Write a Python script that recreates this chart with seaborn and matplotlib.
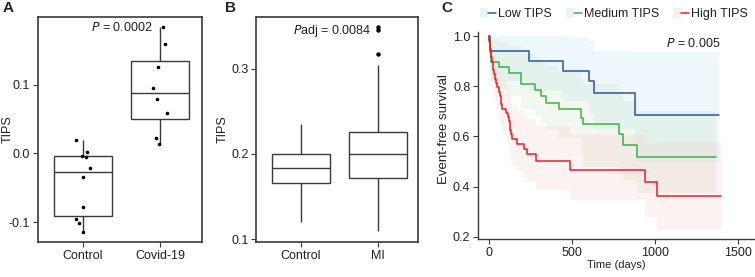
import numpy as np
import pandas as pd
import matplotlib
matplotlib.use("Agg")
import matplotlib.pyplot as plt
import seaborn as sns
from matplotlib.lines import Line2D
from matplotlib.patches import Patch
from matplotlib.legend_handler import HandlerTuple

# ── Data ───────────────────────────────────────────────────────
# Panel A: TIPS per sample
a_groups = ["Control", "Covid-19"]
a_control = [0.020, 0.0024, -0.004, -0.005, -0.021, -0.034, -0.078, -0.095, -0.101, -0.114]
a_covid = [0.185, 0.160, 0.126, 0.096, 0.079, 0.059, 0.022, 0.014]

# Panel B: five-number summaries (whisker low, Q1, median, Q3, whisker high) + outliers
b_groups = ["Control", "MI"]
b_ctrl_stats = [0.1196, 0.166, 0.1835, 0.200, 0.2357]
b_mi_stats = [0.109, 0.172, 0.200, 0.2255, 0.305]
b_mi_outliers = [0.317, 0.346, 0.349]

# Panel C: Kaplan-Meier steps (time, survival, CI low, CI high)
low_t = [0, 5, 240, 446, 600, 631, 880, 1385]
low_s = [1.0, 0.939, 0.901, 0.861, 0.820, 0.772, 0.687, 0.687]
low_lo = [1.0, 0.82, 0.78, 0.74, 0.69, 0.63, 0.50, 0.50]
low_hi = [1.0, 1.0, 1.0, 0.995, 0.98, 0.94, 0.935, 0.935]

med_t = [0, 2, 5, 8, 11, 14, 62, 120, 192, 276, 312, 346, 422, 556, 566, 780, 808, 891, 1365]
med_s = [1.0, 0.978, 0.956, 0.935, 0.919, 0.897, 0.877, 0.852, 0.808, 0.785, 0.761,
         0.735, 0.708, 0.675, 0.648, 0.608, 0.565, 0.519, 0.519]
med_lo = [1.0, 0.94, 0.90, 0.87, 0.84, 0.82, 0.79, 0.76, 0.71, 0.68, 0.655,
          0.625, 0.595, 0.53, 0.48, 0.445, 0.428, 0.375, 0.375]
med_hi = [1.0, 1.0, 1.0, 1.0, 1.0, 0.99, 0.975, 0.96, 0.93, 0.915, 0.90,
          0.88, 0.86, 0.83, 0.81, 0.78, 0.74, 0.70, 0.70]

high_t = [0, 3, 6, 9, 12, 15, 18, 22, 26, 31, 36, 42, 50, 60, 66, 70, 74, 80, 100,
          112, 118, 124, 129, 133, 138, 166, 212, 230, 282, 490, 938, 1011, 1397]
high_s = [1.0, .983, .966, .949, .932, .915, .898, .881, .864, .847, .830, .813, .796,
          .779, .762, .745, .728, .711, .694, .677, .660, .643, .626, .609, .592, .572,
          .551, .532, .501, .468, .419, .364, .364]
high_lo = [1.0, .951, .923, .898, .875, .852, .830, .809, .788, .767, .746, .726, .706,
           .686, .667, .648, .629, .610, .591, .573, .555, .537, .519, .501, .484, .462,
           .440, .420, .388, .348, .281, .228, .228]
high_hi = [1.0, 1.0, 1.0, .996, .986, .975, .964, .952, .940, .928, .916, .903, .890,
           .877, .864, .851, .837, .823, .810, .796, .781, .767, .752, .737, .722, .705,
           .686, .669, .641, .611, .570, .580, .580]

KM_GROUPS = [
    ("Low TIPS", low_t, low_s, low_lo, low_hi, "#2f52a3", "#b5dcf3"),
    ("Medium TIPS", med_t, med_s, med_lo, med_hi, "#3bb34a", "#c4e3bd"),
    ("High TIPS", high_t, high_s, high_lo, high_hi, "#ec1c24", "#f8c4c4"),
]

# ── Style ──────────────────────────────────────────────────────
sns.set_theme(style="ticks")
plt.rcParams["font.family"] = ["Liberation Sans", "DejaVu Sans"]
plt.rcParams["axes.unicode_minus"] = False
DARK = "#3a3a3a"
TXT = "#222222"
FS = 9

fig = plt.figure(figsize=(7.55, 2.77), dpi=100)
ax_a = fig.add_axes([0.0503, 0.1264, 0.2172, 0.8123])
ax_b = fig.add_axes([0.3391, 0.1264, 0.2146, 0.8123])
ax_c = fig.add_axes([0.6331, 0.1372, 0.3669, 0.7473])


def style_box_axes(ax, label_x):
    ax.tick_params(axis="both", length=3.5, width=0.8, color=DARK,
                   labelsize=FS, labelcolor=TXT, pad=2)
    ax.set_xlabel("")
    ax.set_ylabel("TIPS", fontsize=FS, color=TXT)
    ax.yaxis.set_label_coords(label_x, 0.5)


box_kw = dict(color="white", linecolor=DARK, linewidth=1.0, width=0.75, showcaps=False)

# ── Panel A ────────────────────────────────────────────────────
df_a = pd.DataFrame({
    "group": [a_groups[0]] * len(a_control) + [a_groups[1]] * len(a_covid),
    "tips": a_control + a_covid,
})
sns.boxplot(data=df_a, x="group", y="tips", order=a_groups, ax=ax_a,
            showfliers=False, **box_kw)
np.random.seed(7)
sns.stripplot(data=df_a, x="group", y="tips", order=a_groups, ax=ax_a,
              color="black", size=2.6, jitter=0.1, linewidth=0)
ax_a.set_xlim(-0.58, 1.54)
ax_a.set_ylim(-0.129, 0.199)
ax_a.set_yticks([-0.1, 0.0, 0.1])
ax_a.set_yticklabels(["-0.1", "0.0", "0.1"])
style_box_axes(ax_a, -0.145)
ax_a.text(0.9, 0.183, "$\\it{P}$ = 0.0002", fontsize=FS, ha="right", va="center", color=TXT)

# ── Panel B ────────────────────────────────────────────────────
b_ctrl = np.repeat(b_ctrl_stats, 10)
b_mi = np.concatenate([np.repeat(b_mi_stats, 10), b_mi_outliers])
df_b = pd.DataFrame({
    "group": [b_groups[0]] * len(b_ctrl) + [b_groups[1]] * len(b_mi),
    "tips": np.concatenate([b_ctrl, b_mi]),
})
sns.boxplot(data=df_b, x="group", y="tips", order=b_groups, ax=ax_b,
            flierprops=dict(marker="o", markersize=2.2, markerfacecolor="black",
                            markeredgecolor="black"), **box_kw)
ax_b.set_xlim(-0.58, 1.52)
ax_b.set_ylim(0.0965, 0.361)
ax_b.set_yticks([0.1, 0.2, 0.3])
ax_b.set_yticklabels(["0.1", "0.2", "0.3"])
style_box_axes(ax_b, -0.17)
ax_b.text(0.92, 0.345, "$\\it{P}$adj = 0.0084", fontsize=FS, ha="right", va="center", color=TXT)

# ── Panel C ────────────────────────────────────────────────────
handles = []
for name, t, s, lo, hi, col, band in KM_GROUPS:
    ax_c.fill_between(t, lo, hi, step="post", color=band, alpha=0.22, linewidth=0)
    sns.lineplot(x=t, y=s, ax=ax_c, color=col, linewidth=1.1, estimator=None,
                 drawstyle="steps-post", sort=False)
    handles.append((Patch(facecolor=band, alpha=0.3, edgecolor="none"),
                    Line2D([], [], color=col, linewidth=1.1)))

ax_c.set_xlim(-66, 1600)
ax_c.set_ylim(0.192, 1.016)
ax_c.set_xticks([0, 500, 1000, 1500])
ax_c.set_yticks([0.2, 0.4, 0.6, 0.8, 1.0])
ax_c.set_yticklabels(["0.2", "0.4", "0.6", "0.8", "1.0"])
sns.despine(ax=ax_c)
for sp in ("left", "bottom"):
    ax_c.spines[sp].set_color(DARK)
    ax_c.spines[sp].set_linewidth(1.0)
ax_c.tick_params(axis="both", length=3.5, width=0.8, color=DARK,
                 labelsize=FS, labelcolor=TXT, pad=2)
ax_c.set_xlabel("Time (days)", fontsize=8, color=TXT, labelpad=1)
ax_c.set_ylabel("Event-free survival", fontsize=9.5, color=TXT)
ax_c.yaxis.set_label_coords(-0.1, 0.53)
ax_c.text(1390, 0.972, "$\\it{P}$ = 0.005", fontsize=FS, ha="right", va="center", color=TXT)
ax_c.legend(handles, [g[0] for g in KM_GROUPS],
            handler_map={tuple: HandlerTuple(ndivide=None, pad=0)},
            loc="center left", bbox_to_anchor=(0.636, 0.949), bbox_transform=fig.transFigure,
            ncol=3, frameon=False, fontsize=FS, handlelength=1.3, handleheight=0.9,
            handletextpad=0.15, columnspacing=1.1, borderpad=0, borderaxespad=0,
            labelcolor=TXT)

# full frame on the box panels
for ax in (ax_a, ax_b):
    for sp in ax.spines.values():
        sp.set_visible(True)
        sp.set_color(DARK)
        sp.set_linewidth(1.2)
        sp.set_zorder(10)

# ── Panel letters ──────────────────────────────────────────────
for x, lab in [(0.003, "A"), (0.298, "B"), (0.585, "C")]:
    fig.text(x, 0.995, lab, fontsize=11, fontweight="bold", ha="left", va="top")

fig.savefig("out.png", dpi=100)
